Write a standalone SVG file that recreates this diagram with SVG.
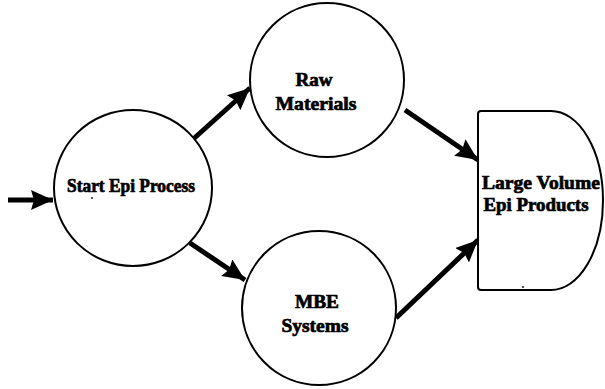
<svg xmlns="http://www.w3.org/2000/svg" width="605" height="389" viewBox="0 0 605 389">
<style>
.node{fill:#fff;stroke:#000;stroke-width:2}
.lbl{font-family:"Liberation Serif","Times New Roman",serif;font-weight:bold;font-size:19px;fill:#000;stroke:#000;stroke-width:0.7;text-anchor:middle}
.conn{stroke:#000;stroke-width:5;fill:none;marker-end:url(#ah)}
</style>
<defs>
<marker id="ah" markerUnits="userSpaceOnUse" markerWidth="26" markerHeight="22" refX="22" refY="10" orient="auto">
<polygon points="0,0 22,10 0,20 3,10" fill="#000"/>
</marker>
</defs>
<g id="connectors">
<line class="conn" x1="8" y1="200" x2="53" y2="200"/>
<line class="conn" x1="190" y1="142" x2="250" y2="88"/>
<line class="conn" x1="190" y1="243" x2="245" y2="280"/>
<line class="conn" x1="405" y1="110" x2="478" y2="160"/>
<line class="conn" x1="396" y1="318" x2="478" y2="240"/>
</g>
<g id="start">
<ellipse class="node" cx="133" cy="188" rx="79" ry="78"/>
<text class="lbl" x="131" y="192" textLength="128" lengthAdjust="spacingAndGlyphs">Start Epi Process</text>
<circle cx="92" cy="198" r="0.9" fill="#000"/>
</g>
<g id="raw">
<circle class="node" cx="327" cy="80" r="77"/>
<text class="lbl" x="314" y="86" textLength="37" lengthAdjust="spacingAndGlyphs">Raw</text>
<text class="lbl" x="316" y="110" textLength="81" lengthAdjust="spacingAndGlyphs">Materials</text>
</g>
<g id="mbe">
<circle class="node" cx="319" cy="308" r="77"/>
<text class="lbl" x="317" y="308" textLength="44" lengthAdjust="spacingAndGlyphs">MBE</text>
<text class="lbl" x="315" y="332" textLength="67" lengthAdjust="spacingAndGlyphs">Systems</text>
</g>
<g id="products">
<path class="node" d="M481,111 L551,111 A52,89.5 0 0 1 551,290 L481,290 Q478,290 478,287 L478,114 Q478,111 481,111 Z"/>
<text class="lbl" x="541" y="189" textLength="118" lengthAdjust="spacingAndGlyphs">Large Volume</text>
<text class="lbl" x="536" y="211" textLength="105" lengthAdjust="spacingAndGlyphs">Epi Products</text>
<circle cx="523" cy="287" r="0.9" fill="#000"/>
</g>
</svg>
